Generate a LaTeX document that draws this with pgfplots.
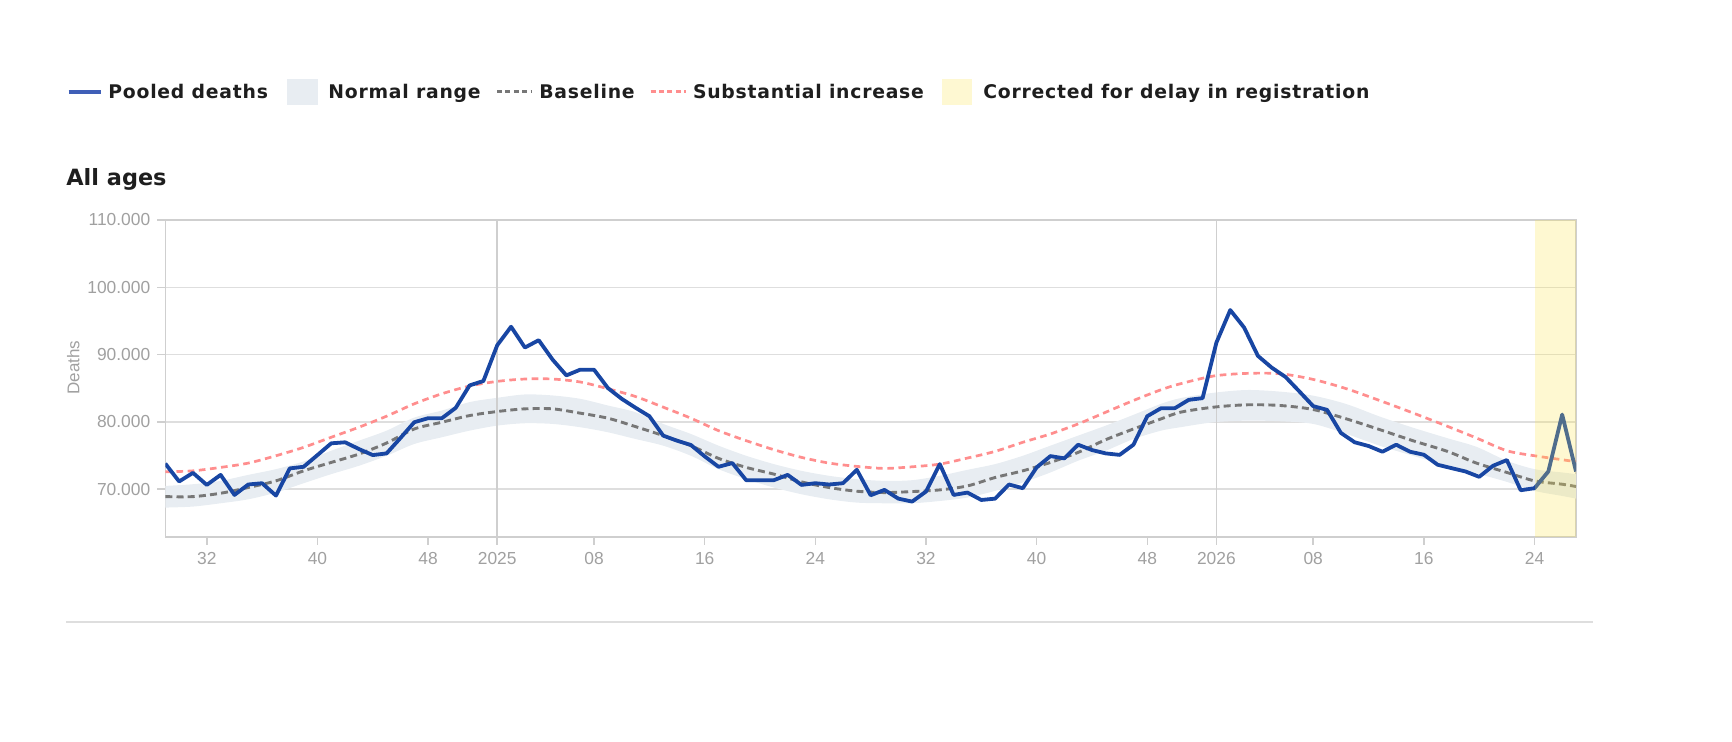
\documentclass[border=0pt]{standalone}
\usepackage{fontspec}
\setmainfont{Liberation Sans}
\newfontfamily\legfont[LetterSpace=4]{DejaVu Sans}
\newfontfamily\titlefont{DejaVu Sans}
\usepackage{pgfplots}
\pgfplotsset{compat=1.18}
\usepgfplotslibrary{fillbetween}
\usepackage{pgfplotstable}

\definecolor{deathblue}{HTML}{1846A3}
\definecolor{swatchblue}{HTML}{3F5FB7}
\definecolor{bandfill}{HTML}{E8EDF2}
\definecolor{basegray}{HTML}{777777}
\definecolor{incred}{HTML}{FF8E8E}
\definecolor{delayyellow}{RGB}{251,227,73}
\definecolor{legyellow}{HTML}{FEF8D2}
\definecolor{gridgray}{HTML}{DEDEDE}
\definecolor{axisgray}{HTML}{CFCFCF}
\definecolor{ticklab}{HTML}{A0A0A0}
\definecolor{textdark}{HTML}{1E1E1E}

% weekly pooled deaths; x = running week (2024 w1 = 1, 2025 w1 = 53, 2026 w1 = 105)
\pgfplotstableread{
x y
29 73800
30 71150
31 72430
32 70640
33 72130
34 69150
35 70700
36 70890
37 69050
38 73090
39 73330
40 75070
41 76820
42 76970
43 75970
44 75070
45 75320
46 77600
47 79950
48 80550
49 80550
50 82090
51 85420
52 86080
53 91390
54 94140
55 91050
56 92140
57 89260
58 86910
59 87760
60 87760
61 85030
62 83430
63 82100
64 80850
65 77960
66 77210
67 76570
68 74880
69 73330
70 73880
71 71340
72 71340
73 71340
74 72130
75 70640
76 70890
77 70700
78 70890
79 72880
80 69100
81 69900
82 68600
83 68160
84 69650
85 73730
86 69150
87 69500
88 68400
89 68600
90 70700
91 70150
92 73240
93 74920
94 74580
95 76610
96 75820
97 75320
98 75100
99 76610
100 80850
101 82040
102 82040
103 83280
104 83530
105 91790
106 96620
107 94030
108 89810
109 88060
110 86670
111 84520
112 82340
113 81790
114 78360
115 76970
116 76420
117 75570
118 76610
119 75570
120 75120
121 73630
122 73130
123 72640
124 71840
125 73480
126 74330
127 69850
128 70150
129 72640
130 81090
131 72640
}\deaths

% normal range (lo, up), baseline and substantial-increase threshold
\pgfplotstableread{
x up lo base inc
29 70490 67270 68900 72580
31 70740 67420 68900 72730
33 71240 67910 69400 73240
35 72130 68500 70250 73880
37 72980 69500 71240 74970
39 74130 70890 72730 76220
41 75720 72240 73980 77720
43 77210 73480 75220 79210
45 78700 74970 76860 80850
47 80640 76720 78950 82690
49 81690 77720 79950 84180
51 82940 78700 80940 85330
53 83580 79450 81540 86020
55 84080 79800 81940 86370
57 83930 79700 81940 86370
59 83430 79210 81300 85930
61 82440 78460 80550 84930
63 81440 77460 79300 83770
65 79700 76470 77960 82190
67 78210 74970 76470 80550
69 76470 72980 74580 78700
71 74970 71490 73240 77210
73 73730 70250 72240 75870
75 72730 69250 71090 74730
77 71990 68500 70250 73880
79 71490 68010 69700 73390
81 71240 67910 69500 73090
83 71340 67910 69650 73330
85 71990 68250 69900 73730
87 72880 68760 70490 74630
89 73730 69750 71740 75620
91 74970 71000 72730 76970
93 76470 72490 73980 78210
95 77960 74230 75470 79700
97 79450 75720 77360 81440
99 81050 77460 78950 83180
101 82690 78700 80450 84780
102.4 83530 79210 81440 85670
104.8 84330 79950 82190 86820
107.2 84740 80190 82540 87210
109.6 84500 80100 82440 87160
112 83900 79700 81840 86310
114.4 82650 78210 80450 84930
116.8 80800 76470 78860 83180
119.2 79150 74970 77210 81340
121.7 77580 73480 75620 79350
123.8 76300 72350 73880 77610
126 74230 71090 72490 75720
128 72980 69750 71240 74970
130 72490 69000 70740 74380
131 72240 68600 70400 74080
}\refband

\begin{document}
\begin{tikzpicture}
% page frame
\path (0,0) rectangle (866bp,371bp);

% legend
\draw[swatchblue, line width=2.3bp] (34.25bp,325bp) -- (50.25bp,325bp);
\node[anchor=base west, inner sep=0pt, text=textdark] at (54bp,321.85bp)
  {\legfont\bfseries\fontsize{9.4bp}{11bp}\selectfont Pooled deaths};
\fill[bandfill] (143.5bp,318.6bp) rectangle (159bp,331.4bp);
\node[anchor=base west, inner sep=0pt, text=textdark] at (164bp,321.85bp)
  {\legfont\bfseries\fontsize{9.4bp}{11bp}\selectfont Normal range};
\draw[basegray, line width=1.5bp, dash pattern=on 2.5bp off 1.7bp] (248.5bp,325bp) -- (265.5bp,325bp);
\node[anchor=base west, inner sep=0pt, text=textdark] at (269.5bp,321.85bp)
  {\legfont\bfseries\fontsize{9.4bp}{11bp}\selectfont Baseline};
\draw[incred, line width=1.5bp, dash pattern=on 2.5bp off 1.7bp] (325.3bp,325bp) -- (343bp,325bp);
\node[anchor=base west, inner sep=0pt, text=textdark] at (346.3bp,321.85bp)
  {\legfont\bfseries\fontsize{9.4bp}{11bp}\selectfont Substantial increase};
\fill[legyellow] (471bp,318.6bp) rectangle (486bp,331.4bp);
\node[anchor=base west, inner sep=0pt, text=textdark] at (491.5bp,321.85bp)
  {\legfont\bfseries\fontsize{9.4bp}{11bp}\selectfont Corrected for delay in registration};

% panel title
\node[anchor=base west, inner sep=0pt, text=textdark] at (33bp,278.2bp)
  {\titlefont\bfseries\fontsize{11.2bp}{13bp}\selectfont All ages};

% y axis title
\node[rotate=90, anchor=base, inner sep=0pt, text=ticklab] at (39.7bp,187.25bp)
  {\fontsize{8.5bp}{10bp}\selectfont Deaths};

% bottom separator
\draw[gridgray, line width=0.75bp] (33bp,60bp) -- (796.5bp,60bp);

\begin{axis}[
  at={(82.65bp,102.5bp)}, anchor=south west,
  scale only axis, width=705.35bp, height=158.5bp,
  xmin=29, xmax=131, ymin=62900, ymax=110000,
  xtick={32,40,48,53,60,68,76,84,92,100,105,112,120,128},
  xticklabels={32,40,48,2025,08,16,24,32,40,48,2026,08,16,24},
  ytick={70000,80000,90000,100000,110000},
  scaled y ticks=false,
  /pgf/number format/assume math mode=true,
  /pgf/number format/fixed,
  /pgf/number format/1000 sep={.},
  ymajorgrids,
  major grid style={gridgray, line width=0.75bp},
  axis line style={axisgray, line width=0.75bp},
  tick align=outside, major tick length=4bp,
  xtick pos=bottom, ytick pos=left,
  tick style={axisgray, line width=0.75bp},
  tick label style={font=\fontsize{8.7bp}{10bp}\selectfont, text=ticklab},
]
% year boundaries
\draw[axisgray, line width=0.75bp] (axis cs:53,62900) -- (axis cs:53,110000);
\draw[axisgray, line width=0.75bp] (axis cs:105,62900) -- (axis cs:105,110000);

\addplot[name path=up, draw=none, smooth, forget plot] table[x=x, y=up] {\refband};
\addplot[name path=lo, draw=none, smooth, forget plot] table[x=x, y=lo] {\refband};
\addplot[bandfill, forget plot] fill between[of=up and lo];

\addplot[basegray, line width=1.45bp, dash pattern=on 3.5bp off 2.1bp, smooth] table[x=x, y=base] {\refband};
\addplot[incred, line width=1.35bp, dash pattern=on 3.3bp off 2.3bp, smooth] table[x=x, y=inc] {\refband};

\addplot[deathblue, line width=1.9bp, line join=round] table[x=x, y=y] {\deaths};

% weeks still subject to registration delay
\fill[delayyellow, fill opacity=0.25] (axis cs:128,62900) rectangle (axis cs:131,110000);
\end{axis}
\end{tikzpicture}
\end{document}
